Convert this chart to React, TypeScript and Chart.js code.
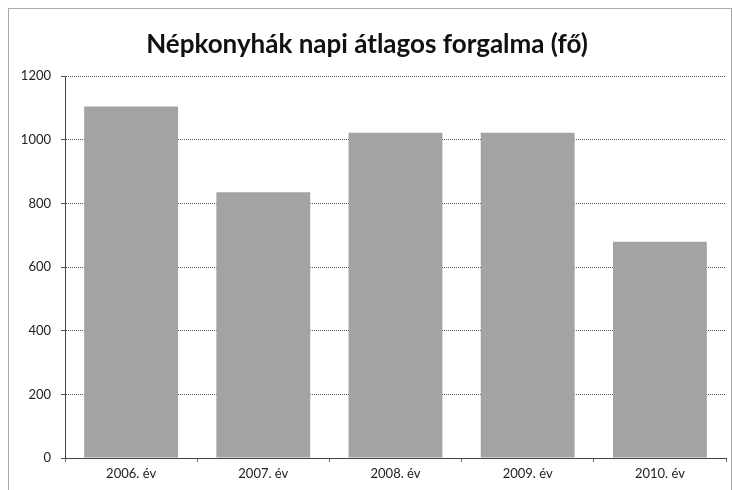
import React, { useEffect, useRef } from "react";
import { Chart, registerables } from "chart.js";

Chart.register(...registerables);

const categories = ["2006. év", "2007. év", "2008. év", "2009. év", "2010. év"];
const values = [1105, 835, 1022, 1022, 680];
const yTicks = [0, 200, 400, 600, 800, 1000, 1200];
const titleText = "Népkonyhák napi átlagos forgalma (fő)";

const FONT = "Lato, 'Open Sans', sans-serif";

const borderPlugin = {
  id: "outerBorder",
  afterDraw(chart: any) {
    const ctx = chart.ctx;
    ctx.save();
    ctx.strokeStyle = "#555";
    ctx.lineWidth = 1;
    ctx.setLineDash([1, 1]);
    ctx.strokeRect(0.5, 0.5, chart.width - 1, chart.height + 20);
    ctx.restore();
  },
};

export default function App() {
  const ref = useRef<HTMLCanvasElement | null>(null);
  useEffect(() => {
    document.body.style.overflow = "hidden";
    const chart = new Chart(ref.current!, {
      type: "bar",
      data: {
        labels: categories,
        datasets: [
          {
            data: values,
            backgroundColor: "#a3a3a3",
            borderWidth: 0,
            categoryPercentage: 0.71,
            barPercentage: 1,
          },
        ],
      },
      options: {
        animation: false,
        responsive: true,
        maintainAspectRatio: false,
        layout: { padding: { left: 0, right: 6, top: 0, bottom: 0 } },
        plugins: {
          legend: { display: false },
          tooltip: { enabled: false },
          title: {
            display: true,
            text: titleText,
            color: "#111",
            font: { family: FONT, size: 26, weight: "bold", lineHeight: 1.2 },
            padding: { top: 21, bottom: 16 },
          },
        },
        scales: {
          x: {
            afterFit: (s: any) => {
              s.height = 32;
            },
            grid: {
              display: true,
              drawOnChartArea: false,
              tickLength: 4,
              color: "#666",
            },
            border: { display: true, color: "#444", dash: [1, 1] },
            ticks: {
              color: "#222",
              font: { family: FONT, size: 13 },
              padding: 4,
            },
          },
          y: {
            min: 0,
            max: 1200,
            afterBuildTicks: (s: any) => {
              s.ticks = yTicks.map((v) => ({ value: v }));
            },
            afterFit: (s: any) => {
              s.width = 57;
            },
            grid: {
              color: "#555",
              tickLength: 4,
            },
            border: { display: true, color: "#444", dash: [1, 1] },
            ticks: {
              color: "#222",
              font: { family: FONT, size: 13 },
              padding: 10,
              callback: (v: any) => String(v),
            },
          },
        },
      },
      plugins: [borderPlugin],
    } as any);
    (chart.options.scales as any).y.grid.borderDash = [1, 1];
    chart.update();
    return () => chart.destroy();
  }, []);
  return (
    <div style={{ position: "fixed", left: 8, top: 8, width: 724, height: 482 }}>
      <canvas ref={ref} />
    </div>
  );
}
